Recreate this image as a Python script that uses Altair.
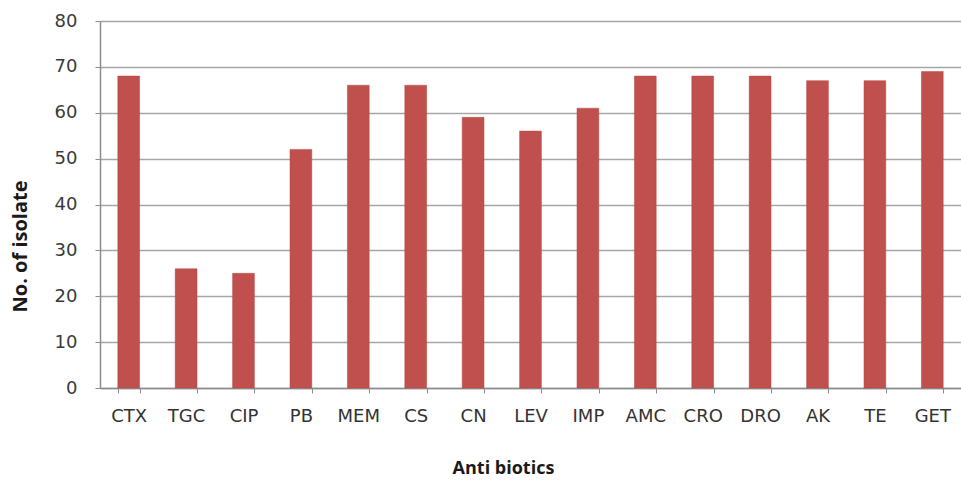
import altair as alt
import pandas as pd

antibiotics = ["CTX", "TGC", "CIP", "PB", "MEM", "CS", "CN", "LEV", "IMP",
               "AMC", "CRO", "DRO", "AK", "TE", "GET"]
isolates = [68, 26, 25, 52, 66, 66, 59, 56, 61, 68, 68, 68, 67, 67, 69]

df = pd.DataFrame({"Antibiotic": antibiotics, "Isolates": isolates})

LABEL_FONT = "DejaVu Sans"
TITLE_FONT = "Open Sans"

chart = (
    alt.Chart(df)
    .mark_bar(color="#C0504D", stroke="#B84A47", strokeWidth=0.5)
    .encode(
        x=alt.X(
            "Antibiotic:N",
            sort=antibiotics,
            scale=alt.Scale(paddingInner=0.62, paddingOuter=0.31),
            axis=alt.Axis(
                title="Anti biotics",
                labelAngle=0,
                labelFont=LABEL_FONT,
                labelFontSize=18,
                labelColor="#333333",
                labelPadding=14,
                tickBand="extent",
                ticks=True,
                tickSize=5,
                tickColor="#8c8c8c",
                domainColor="#8c8c8c",
                domainWidth=1.5,
                titleFont=TITLE_FONT,
                titleFontSize=18,
                titleFontWeight="bold",
                titleColor="#1a1a1a",
                titleX=403,
                titleY=80,
                titleAlign="center",
                titleBaseline="middle",
            ),
        ),
        y=alt.Y(
            "Isolates:Q",
            scale=alt.Scale(domain=[0, 80]),
            axis=alt.Axis(
                title="No. of isolate",
                values=[0, 10, 20, 30, 40, 50, 60, 70, 80],
                labelFont=LABEL_FONT,
                labelFontSize=18,
                labelColor="#3a3a3a",
                labelPadding=18,
                tickSize=5,
                tickColor="#8c8c8c",
                domainColor="#8c8c8c",
                domainWidth=1.5,
                grid=True,
                gridColor="#a6a6a6",
                gridWidth=1.5,
                titleFont=TITLE_FONT,
                titleFontSize=20,
                titleFontWeight="bold",
                titleColor="#1a1a1a",
                titleAngle=-90,
                titleX=-80,
                titleY=225,
                titleAlign="center",
                titleBaseline="middle",
            ),
        ),
    )
    .properties(
        width=861,
        height=367,
        autosize=alt.AutoSizeParams(type="none"),
        padding={"left": 100, "top": 21, "right": 0, "bottom": 93},
    )
    .configure_view(stroke=None)
    .configure(background="white")
)

chart.save("out.html", embed_options={"renderer": "svg", "actions": False})
